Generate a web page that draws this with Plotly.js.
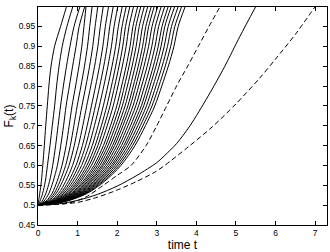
<!DOCTYPE html>
<html><head><meta charset="utf-8">
<script src="https://cdn.plot.ly/plotly-3.0.1.min.js"></script>
<style>html,body{margin:0;padding:0;background:#fff;}#chart{width:330px;height:252px;}</style>
</head><body><div id="chart"></div>
<script>
// F levels at which crossing times of the 30 solid curves were read
const levels = [0.5, 0.51, 0.53, 0.56, 0.6, 0.65, 0.7, 0.75, 0.8, 0.85, 0.9, 0.95, 1.0];
// crossing times t for each curve k = 1..30, one array per level
const t050 = new Array(30).fill(0);
const t051 = [0.015,0.050,0.103,0.149,0.202,0.233,0.261,0.300,0.329,0.354,0.378,0.403,0.425,0.444,0.464,0.486,0.503,0.520,0.537,0.554,0.569,0.586,0.603,0.620,0.637,0.651,0.669,0.686,0.703,0.720];
const t053 = [0.045,0.118,0.200,0.277,0.357,0.411,0.461,0.522,0.572,0.615,0.657,0.700,0.738,0.772,0.806,0.844,0.873,0.903,0.933,0.962,0.988,1.018,1.047,1.077,1.107,1.132,1.162,1.191,1.221,1.251];
const t056 = [0.085,0.185,0.291,0.383,0.482,0.554,0.622,0.701,0.770,0.827,0.884,0.941,0.992,1.037,1.083,1.134,1.174,1.214,1.254,1.294,1.328,1.368,1.408,1.448,1.488,1.522,1.562,1.602,1.642,1.682];
const t060 = [0.120,0.239,0.371,0.490,0.606,0.698,0.783,0.873,0.959,1.030,1.101,1.172,1.235,1.292,1.349,1.413,1.463,1.512,1.562,1.612,1.654,1.704,1.754,1.803,1.853,1.896,1.945,1.995,2.045,2.095];
const t065 = [0.160,0.302,0.445,0.575,0.710,0.817,0.916,1.021,1.121,1.204,1.287,1.370,1.444,1.511,1.577,1.652,1.710,1.768,1.826,1.884,1.934,1.992,2.050,2.108,2.166,2.216,2.274,2.332,2.390,2.449];
const t070 = [0.195,0.361,0.507,0.646,0.787,0.906,1.016,1.132,1.242,1.334,1.426,1.518,1.601,1.674,1.748,1.831,1.895,1.960,2.024,2.088,2.144,2.208,2.272,2.337,2.401,2.456,2.521,2.585,2.650,2.714];
const t075 = [0.235,0.42,0.57,0.71,0.86,0.99,1.11,1.23,1.35,1.45,1.55,1.65,1.74,1.82,1.90,1.99,2.06,2.13,2.20,2.27,2.33,2.40,2.47,2.54,2.61,2.67,2.74,2.81,2.88,2.95];
const t080 = [0.275,0.470,0.641,0.793,0.950,1.085,1.210,1.333,1.455,1.559,1.662,1.764,1.855,1.937,2.020,2.112,2.184,2.258,2.332,2.406,2.470,2.544,2.618,2.692,2.767,2.830,2.904,2.979,3.053,3.127];
const t085 = [0.329,0.532,0.720,0.875,1.035,1.174,1.303,1.430,1.554,1.661,1.766,1.870,1.962,2.047,2.131,2.227,2.299,2.377,2.455,2.533,2.600,2.678,2.757,2.835,2.913,2.980,3.058,3.136,3.214,3.292];
const t090 = [0.419,0.612,0.808,0.961,1.107,1.250,1.383,1.512,1.638,1.748,1.855,1.962,2.054,2.141,2.227,2.325,2.398,2.479,2.561,2.642,2.712,2.794,2.875,2.957,3.038,3.108,3.189,3.271,3.352,3.434];
const t095 = [0.57,0.73,0.91,1.04,1.161,1.307,1.443,1.574,1.701,1.813,1.922,2.030,2.123,2.211,2.299,2.398,2.472,2.556,2.640,2.724,2.796,2.880,2.964,3.048,3.132,3.204,3.288,3.372,3.456,3.540];
const t100 = [0.72,0.88,1.06,1.18,1.213,1.366,1.510,1.648,1.782,1.900,2.015,2.129,2.227,2.320,2.413,2.517,2.596,2.684,2.772,2.860,2.936,3.024,3.112,3.200,3.289,3.364,3.452,3.541,3.629,3.717];

// first dashed curve
const dash1T = [0, 0.8, 1.2, 1.65, 2.0, 2.35, 2.73, 3.0, 3.25, 3.5, 3.78, 4.05, 4.32, 4.6];
const dash1F = [0.5, 0.506, 0.52, 0.55, 0.575, 0.6, 0.65, 0.7, 0.75, 0.8, 0.85, 0.9, 0.95, 1.0];
// lone solid curve
const soloT = [0, 0.5, 1.0, 1.5, 2.0, 2.5, 3.0, 3.2, 3.5, 3.84, 4.3, 4.72, 5.1, 5.5];
const soloF = [0.5, 0.503, 0.512, 0.527, 0.548, 0.575, 0.607, 0.625, 0.655, 0.70, 0.775, 0.85, 0.925, 1.0];
// second dashed curve
const dash2T = [0, 0.5, 1.0, 1.5, 2.0, 2.5, 2.95, 3.2, 3.8, 4.4, 5.0, 5.6, 6.0, 6.5, 7.0];
const dash2F = [0.5, 0.502, 0.507, 0.52, 0.538, 0.56, 0.583, 0.6, 0.647, 0.697, 0.755, 0.82, 0.868, 0.93, 1.0];

const xTicks = [0, 1, 2, 3, 4, 5, 6, 7];
const yTickVals = [0.45, 0.5, 0.55, 0.6, 0.65, 0.7, 0.75, 0.8, 0.85, 0.9, 0.95];
const yTickText = ['0.45','0.5','0.55','0.6','0.65','0.7','0.75','0.8','0.85','0.9','0.95'];

const byLevel = [t050,t051,t053,t056,t060,t065,t070,t075,t080,t085,t090,t095,t100];
const traces = [];
for (let k = 0; k < 30; k++) {
  traces.push({x: byLevel.map(a => a[k]), y: levels, type: 'scatter', mode: 'lines',
    line: {color: '#000', width: 1, shape: 'spline', smoothing: 0.8}, hoverinfo: 'skip'});
}
traces.push({x: dash1T, y: dash1F, type:'scatter', mode:'lines', line:{color:'#000', width:1, dash:'5px,3px', shape:'spline', smoothing:0.8}});
traces.push({x: soloT, y: soloF, type:'scatter', mode:'lines', line:{color:'#000', width:1, shape:'spline', smoothing:0.8}});
traces.push({x: dash2T, y: dash2F, type:'scatter', mode:'lines', line:{color:'#000', width:1, dash:'5px,3px', shape:'spline', smoothing:0.8}});

const font = {family: '"Liberation Sans", Arial, sans-serif', color: '#000'};
const axisBase = {showline: true, linecolor: '#000', linewidth: 1, mirror: 'ticks', ticks: 'inside',
  ticklen: 4, tickcolor: '#000', showgrid: false, zeroline: false, tickfont: {size: 8.5, color:'#000'}};
const layout = {
  width: 330, height: 252, showlegend: false,
  margin: {l: 38, r: 3, t: 7, b: 27},
  paper_bgcolor: '#fff', plot_bgcolor: '#fff', font: font,
  xaxis: Object.assign({}, axisBase, {range: [0, 7.3], tickvals: xTicks,
    title: {text: 'time t', font: {size: 12}, standoff: 2}}),
  yaxis: Object.assign({}, axisBase, {range: [0.45, 0.999], tickvals: yTickVals, ticktext: yTickText,
    title: {text: 'F<sub>k</sub>(t)', font: {size: 12}, standoff: 2}})
};
Plotly.newPlot('chart', traces, layout, {staticPlot: true});
</script></body></html>
